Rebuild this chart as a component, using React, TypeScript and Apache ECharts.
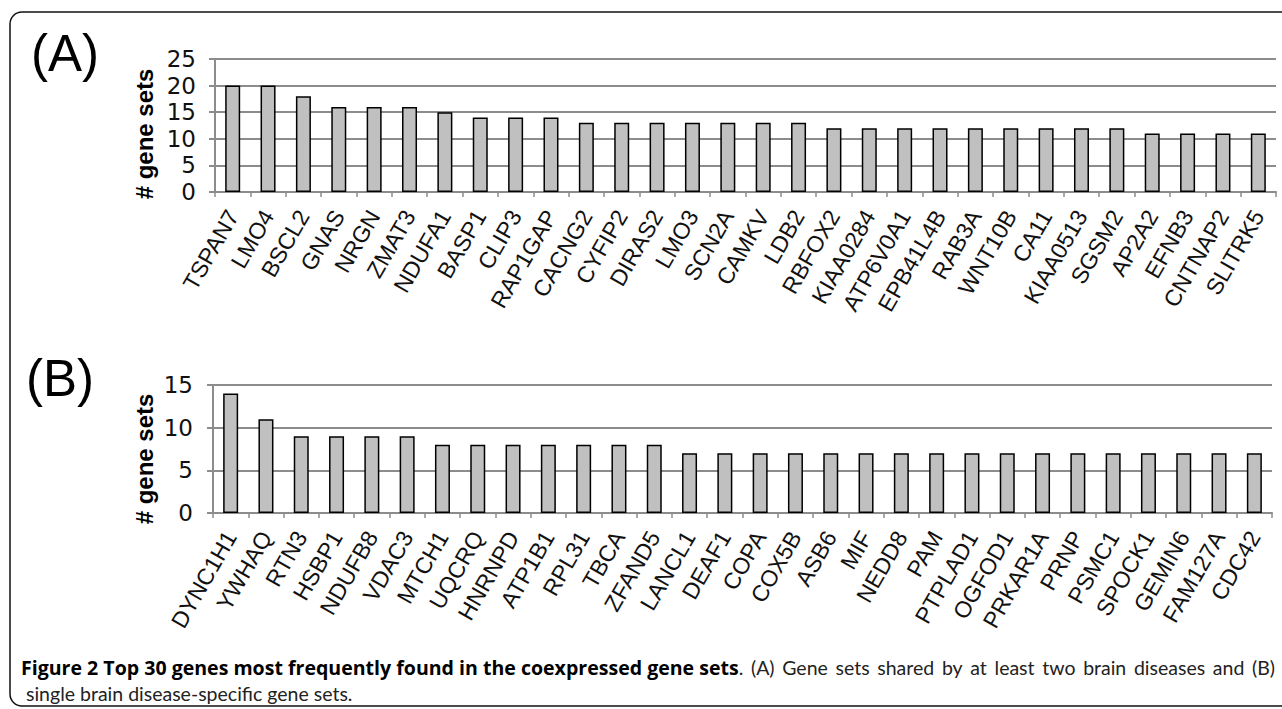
import React, { useEffect, useRef } from "react";
import * as echarts from "echarts";

const genesA = ["TSPAN7","LMO4","BSCL2","GNAS","NRGN","ZMAT3","NDUFA1","BASP1","CLIP3","RAP1GAP","CACNG2","CYFIP2","DIRAS2","LMO3","SCN2A","CAMKV","LDB2","RBFOX2","KIAA0284","ATP6V0A1","EPB41L4B","RAB3A","WNT10B","CA11","KIAA0513","SGSM2","AP2A2","EFNB3","CNTNAP2","SLITRK5"];
const valuesA = [20,20,18,16,16,16,15,14,14,14,13,13,13,13,13,13,13,12,12,12,12,12,12,12,12,12,11,11,11,11];

const genesB = ["DYNC1H1","YWHAQ","RTN3","HSBP1","NDUFB8","VDAC3","MTCH1","UQCRQ","HNRNPD","ATP1B1","RPL31","TBCA","ZFAND5","LANCL1","DEAF1","COPA","COX5B","ASB6","MIF","NEDD8","PAM","PTPLAD1","OGFOD1","PRKAR1A","PRNP","PSMC1","SPOCK1","GEMIN6","FAM127A","CDC42"];
const valuesB = [14,11,9,9,9,9,8,8,8,8,8,8,8,7,7,7,7,7,7,7,7,7,7,7,7,7,7,7,7,7];

const yTicksA = { min: 0, max: 25, interval: 5 };
const yTicksB = { min: 0, max: 15, interval: 5 };

const panelLabels = ["(A)", "(B)"];
const yAxisTitle = "# gene sets";
const captionBold = "Figure 2 Top 30 genes most frequently found in the coexpressed gene sets";
const captionRest = ". (A) Gene sets shared by at least two brain diseases and (B)";
const captionLine2 = "single brain disease-specific gene sets.";

const FONT = "'Liberation Sans', Arial, sans-serif";
const AX_FONT = "'DejaVu Sans', sans-serif";
const CAP_FONT = "Lato, 'Open Sans', sans-serif";
const CAP_BOLD_FONT = "'Open Sans', Lato, sans-serif";
const GRID_COLOR = "#8c8c8c";

function measure(text: string, font: string): number {
  const ctx = document.createElement("canvas").getContext("2d");
  if (!ctx) return text.length * 8;
  ctx.font = font;
  return ctx.measureText(text).width;
}

function captionElements(): any[] {
  const x0 = 21;
  const xEnd = 1275;
  const y1 = 667;
  const boldTarget = 718;
  let boldSize = (18 * boldTarget) / measure(captionBold, `bold 18px ${CAP_BOLD_FONT}`);
  boldSize = Math.max(15, Math.min(21, boldSize));
  const boldFont = `bold ${boldSize.toFixed(2)}px ${CAP_BOLD_FONT}`;
  const normFont = `19.5px ${CAP_FONT}`;
  const els: any[] = [];
  els.push({ type: "text", x: x0, y: y1, style: { text: captionBold, font: boldFont, fill: "#000", verticalAlign: "middle" } });
  let x = x0 + measure(captionBold, boldFont);
  els.push({ type: "text", x, y: y1, style: { text: ".", font: normFont, fill: "#222", verticalAlign: "middle" } });
  x += measure(".", normFont);
  const words = captionRest.slice(1).trim().split(" ");
  const widths = words.map((w) => measure(w, normFont));
  const total = widths.reduce((a, b) => a + b, 0);
  const gap = (xEnd - x - total) / words.length;
  words.forEach((w, i) => {
    x += gap;
    els.push({ type: "text", x, y: y1, style: { text: w, font: normFont, fill: "#222", verticalAlign: "middle" } });
    x += widths[i];
  });
  els.push({ type: "text", x: x0 + 5, y: 693, style: { text: captionLine2, font: normFont, fill: "#222", verticalAlign: "middle" } });
  return els;
}

export default function App() {
  const ref = useRef<HTMLDivElement>(null);
  useEffect(() => {
    if (!ref.current) return;
    const chart = echarts.init(ref.current, undefined, { renderer: "svg" });
    const xAxisCommon = (data: string[], gridIndex: number) => ({
      type: "category" as const,
      gridIndex,
      data,
      boundaryGap: true,
      axisLine: { lineStyle: { color: GRID_COLOR, width: 2 } },
      axisTick: { show: true, length: 5, lineStyle: { color: GRID_COLOR, width: 1.5 } },
      axisLabel: { interval: 0, rotate: 60, fontSize: 23, fontFamily: FONT, color: "#111", margin: 20 },
    });
    const yAxisCommon = (t: { min: number; max: number; interval: number }, gridIndex: number, margin: number) => ({
      type: "value" as const,
      gridIndex,
      min: t.min,
      max: t.max,
      interval: t.interval,
      axisLine: { show: true, lineStyle: { color: GRID_COLOR, width: 2 } },
      axisTick: { show: true, length: 6, lineStyle: { color: GRID_COLOR, width: 2 } },
      axisLabel: { fontSize: 23, fontFamily: AX_FONT, color: "#111", margin },
      splitLine: { show: true, lineStyle: { color: GRID_COLOR, width: 2 } },
    });
    const barStyle = { color: "#c0c0c0", borderColor: "#000", borderWidth: 1.5 };
    chart.setOption({
      animation: false,
      backgroundColor: "#fff",
      grid: [
        { left: 215, top: 59, width: 1061, height: 133 },
        { left: 213, top: 385, width: 1059, height: 128 },
      ],
      xAxis: [xAxisCommon(genesA, 0), xAxisCommon(genesB, 1)],
      yAxis: [yAxisCommon(yTicksA, 0, 19), yAxisCommon(yTicksB, 1, 20)],
      series: [
        { type: "bar", xAxisIndex: 0, yAxisIndex: 0, data: valuesA, barWidth: 15, itemStyle: barStyle },
        { type: "bar", xAxisIndex: 1, yAxisIndex: 1, data: valuesB, barWidth: 15, itemStyle: barStyle },
      ],
      graphic: [
        {
          type: "rect",
          shape: { x: 10, y: 12, width: 1290, height: 694, r: 12 },
          style: { fill: "none", stroke: "#111", lineWidth: 1.5 },
          silent: true,
        },
        { type: "text", x: 31, y: 53, style: { text: panelLabels[0], font: `51px ${FONT}`, fill: "#000", verticalAlign: "middle" } },
        { type: "text", x: 26, y: 378, style: { text: panelLabels[1], font: `51px ${FONT}`, fill: "#000", verticalAlign: "middle" } },
        { type: "text", x: 144, y: 134, rotation: Math.PI / 2, style: { text: yAxisTitle, font: `bold 24px ${FONT}`, fill: "#000", align: "center", verticalAlign: "middle" } },
        { type: "text", x: 144, y: 459, rotation: Math.PI / 2, style: { text: yAxisTitle, font: `bold 24px ${FONT}`, fill: "#000", align: "center", verticalAlign: "middle" } },
        ...captionElements(),
      ],
    });
    return () => chart.dispose();
  }, []);
  return <div ref={ref} style={{ position: "absolute", left: 0, top: 0, width: 1282, height: 709 }} />;
}
